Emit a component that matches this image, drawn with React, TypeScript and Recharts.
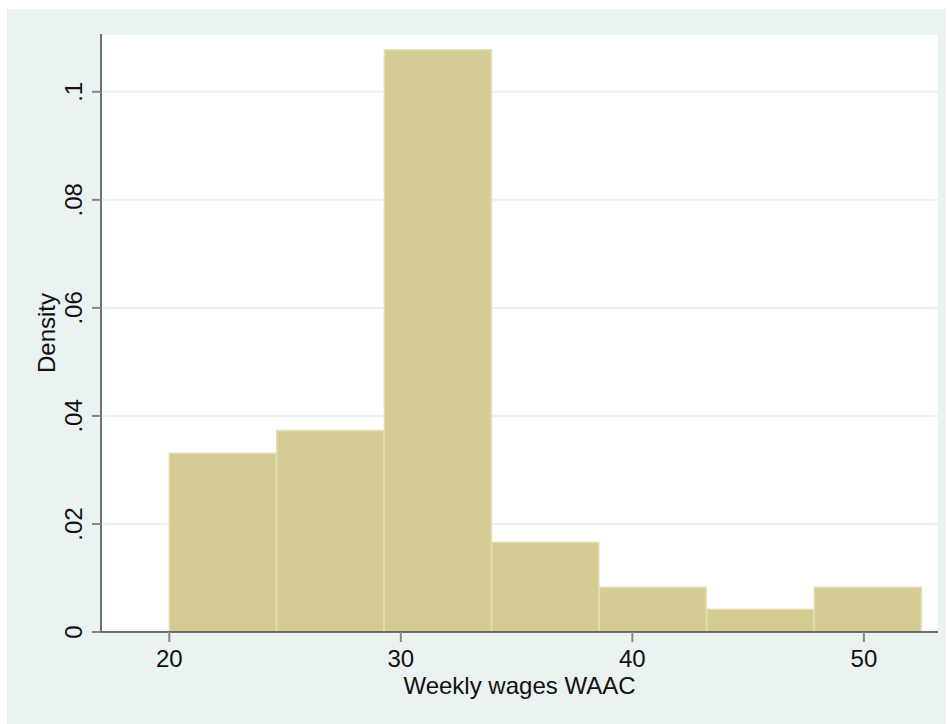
import React from 'react';
import { BarChart, Bar, XAxis, YAxis, CartesianGrid } from 'recharts';

// histogram bins (midpoints of the 7 bins from 20 to 52.5)
const wageMids = [22.32, 26.96, 31.61, 36.25, 40.89, 45.54, 50.18];
const densities = [0.0331, 0.0373, 0.1078, 0.0166, 0.0083, 0.0042, 0.0083];
const xTicks = [20, 30, 40, 50];
const yTicks = [0, 0.02, 0.04, 0.06, 0.08, 0.1];
const yTickLabels = ['0', '.02', '.04', '.06', '.08', '.1'];

const data = wageMids.map((wage, i) => ({ wage, density: densities[i] }));

const font = '"Liberation Sans", Arial, Helvetica, sans-serif';

const YTick = (props: any) => {
  const { x, y, payload } = props;
  const label = yTickLabels[yTicks.indexOf(payload.value)];
  return (
    <text
      x={x}
      y={y}
      transform={`rotate(-90 ${x} ${y})`}
      textAnchor="middle"
      fontSize={24}
      fontFamily={font}
      fill="#111"
    >
      {label}
    </text>
  );
};

const App: React.FC = () => {
  return (
    <div
      style={{
        position: 'absolute',
        left: 7,
        top: 9,
        width: 939,
        height: 715,
        background: '#eaf2f2',
        fontFamily: font,
      }}
    >
      <BarChart
        width={939}
        height={715}
        data={data}
        margin={{ top: 25, right: 8, bottom: 0, left: 0 }}
        barCategoryGap="0%"
        barGap={0}
      >
        <CartesianGrid vertical={false} stroke="#eaf2f3" strokeWidth={2} fill="#ffffff" />
        <XAxis
          dataKey="wage"
          type="number"
          domain={[17.05, 53.2]}
          ticks={xTicks}
          allowDataOverflow
          height={92}
          tickSize={10}
          tickMargin={8}
          axisLine={{ stroke: '#444', strokeWidth: 1.5 }}
          tickLine={{ stroke: '#888', strokeWidth: 2 }}
          tick={{ fontSize: 24, fill: '#111', fontFamily: font }}
          label={{
            content: (p: any) => (
              <text
                x={p.viewBox.x + p.viewBox.width / 2}
                y={p.viewBox.y + 62}
                textAnchor="middle"
                fontSize={24}
                fontFamily={font}
                fill="#111"
              >
                Weekly wages WAAC
              </text>
            ),
          }}
        />
        <YAxis
          type="number"
          domain={[0, 0.1107]}
          ticks={yTicks}
          allowDataOverflow
          width={94}
          tickSize={9}
          tickMargin={10}
          axisLine={{ stroke: '#444', strokeWidth: 1.5 }}
          tickLine={{ stroke: '#888', strokeWidth: 2 }}
          tick={<YTick />}
          label={{
            content: (p: any) => {
              const cx = 48;
              const cy = p.viewBox.y + p.viewBox.height / 2;
              return (
                <text
                  x={cx}
                  y={cy}
                  transform={`rotate(-90 ${cx} ${cy})`}
                  textAnchor="middle"
                  fontSize={24}
                  fontFamily={font}
                  fill="#111"
                >
                  Density
                </text>
              );
            },
          }}
        />
        <Bar
          dataKey="density"
          fill="#d4cc93"
          stroke="#e4ddb6"
          strokeWidth={1.5}
          isAnimationActive={false}
        />
      </BarChart>
    </div>
  );
};

export default App;
